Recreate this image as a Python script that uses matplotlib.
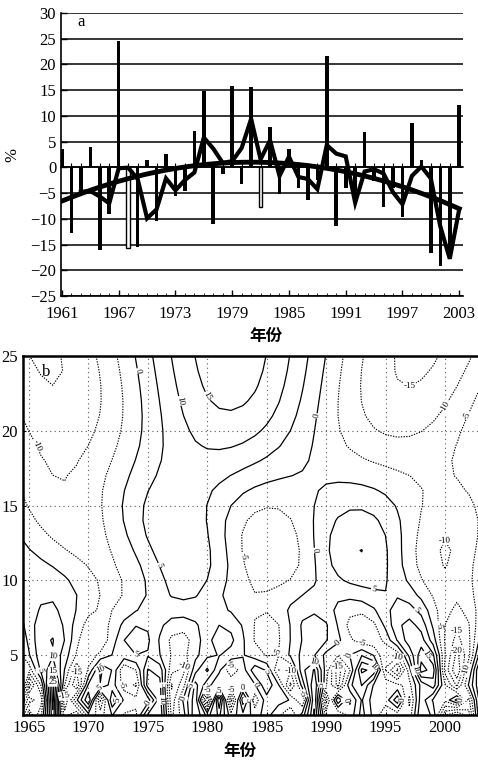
import numpy as np
import matplotlib
matplotlib.use('Agg')
import matplotlib.pyplot as plt
from matplotlib.ticker import MultipleLocator

plt.rcParams['font.family'] = ['Liberation Serif', 'Noto Sans CJK SC']

# precipitation anomaly percentage, 1961-2003
years = np.arange(1961, 2004)
anomaly = np.array([3.5, -12.8, -5.0, 4.0, -16.0, -9.0, 24.5, -15.7, -15.5, 1.5,
                    -10.5, 2.6, -5.5, -4.5, 7.0, 14.9, -11.0, -1.3, 15.9, -3.3,
                    15.7, -7.7, 7.8, -5.1, 3.5, -4.0, -6.3, -2.4, 21.7, -11.3,
                    -4.0, -5.3, 6.9, -2.7, -7.8, -4.0, -9.7, 8.7, 1.5, -16.7,
                    -19.2, -17.4, 12.2])
hollow_years = [1968, 1982]
top_xticks = [1961, 1967, 1973, 1979, 1985, 1991, 1997, 2003]
bot_xticks = [1965, 1970, 1975, 1980, 1985, 1990, 1995, 2000]
bot_yticks = [5, 10, 15, 20, 25]

# 3-yr running mean and quadratic trend
run3 = np.convolve(anomaly, np.ones(3) / 3, mode='valid')
trend = np.polyval(np.polyfit(years, anomaly, 2), years)

# morlet wavelet (real part) coefficients, scales 1..25, one column per year
scales = np.arange(1, 26)
xx = (years[None, None, :] - years[None, :, None]) / scales[:, None, None]
psi = np.exp(-xx ** 2 / 2) * np.cos(5 * xx)
coef = (psi * anomaly[None, None, :]).sum(-1) / np.sqrt(scales)[:, None]

fig = plt.figure(figsize=(4.78, 7.60), dpi=100)
W, H = 478.0, 760.0

# ---- panel a
ax1 = fig.add_axes([61 / W, 1 - 296 / H, 402 / W, 283 / H])
solid = [y not in hollow_years for y in years]
hol = [y in hollow_years for y in years]
ax1.bar(years[solid], anomaly[solid], width=0.38, color='k', zorder=3)
ax1.bar(years[hol], anomaly[hol], width=0.38, facecolor='white', edgecolor='k',
        linewidth=1.0, zorder=3)
ax1.plot(years[2:], run3, color='k', lw=3.0, zorder=4, solid_joinstyle='miter')
ax1.plot(years, trend, color='k', lw=3.5, zorder=4)

ax1.set_xlim(1960.9, 2003.4)
ax1.set_ylim(-25, 30)
ax1.set_xticks(top_xticks)
ax1.xaxis.set_minor_locator(MultipleLocator(1))
ax1.yaxis.set_major_locator(MultipleLocator(5))
ax1.tick_params(direction='in', labelsize=12, length=4, width=1)
ax1.tick_params(axis='x', pad=7)
ax1.tick_params(which='minor', direction='in', length=2)
ax1.spines['top'].set_visible(False)
ax1.spines['right'].set_visible(False)
ax1.spines['left'].set_linewidth(1.2)
ax1.spines['bottom'].set_linewidth(1.2)
ax1.yaxis.grid(True, color='k', lw=1.1)
ax1.get_ygridlines()[-1].set_visible(False)
ax1.set_axisbelow(True)

sec = ax1.secondary_xaxis(25 / 55)
sec.set_xticks(range(1961, 2004))
sec.tick_params(direction='in', length=3, labelbottom=False, labeltop=False)
sec.spines['bottom'].set_linewidth(1.1)

ax1.text(0.04, 0.968, 'a', transform=ax1.transAxes, fontsize=12, va='center')
ax1.set_ylabel('%', fontsize=12, labelpad=7)
ax1.set_xlabel('年份', fontsize=12, fontweight='bold',
               family=['Noto Sans CJK SC', 'DejaVu Sans'])
ax1.xaxis.set_label_coords(0.51, -0.11)

# ---- panel b
ax2 = fig.add_axes([22.7 / W, 1 - 715 / H, 1 - 22.7 / W, 359 / H])
pos = ax2.contour(years, scales, coef, levels=np.arange(0, 40, 5),
                  colors='k', linewidths=0.9)
neg = ax2.contour(years, scales, coef, levels=np.arange(-60, 0, 5),
                  colors='k', linewidths=0.8, linestyles=[(0, (1.2, 1.2))])
labels = ax2.clabel(pos, fmt='%d', fontsize=6.5, inline=False)
labels += ax2.clabel(neg, fmt='%d', fontsize=6.5, inline=False)

ax2.set_xlim(1964.47, 2002.78)
ax2.set_ylim(1, 25)
ax2.set_xticks(bot_xticks)
ax2.set_yticks(bot_yticks)
ax2.tick_params(direction='in', labelsize=12, length=2)
ax2.grid(True, linestyle=(0, (1, 3)), color='0.35', lw=0.8)
for s in ['left', 'top', 'bottom']:
    ax2.spines[s].set_linewidth(1.8)
ax2.spines['right'].set_visible(False)
btxt = ax2.text(0.042, 0.955, 'b', transform=ax2.transAxes, fontsize=12,
                va='center', zorder=6)
ax2.set_xlabel('年份', fontsize=12, fontweight='bold',
               family=['Noto Sans CJK SC', 'DejaVu Sans'])
ax2.xaxis.set_label_coords(0.477, -0.075)

# thin out contour labels: drop the ones off the panel or piled on others
fig.canvas.draw()
rend = fig.canvas.get_renderer()
kept = [btxt.get_window_extent(rend).expanded(1.6, 1.4)]
for t in labels:
    x, y = t.get_position()
    bb = t.get_window_extent(rend).expanded(1.3, 1.3)
    if x < 1965.0 or x > 2002.2 or y < 1.6 or any(bb.overlaps(k) for k in kept):
        t.remove()
        continue
    t.set_bbox(dict(facecolor='white', edgecolor='none', pad=0.3))
    kept.append(bb)

fig.savefig('out.png', dpi=100)
